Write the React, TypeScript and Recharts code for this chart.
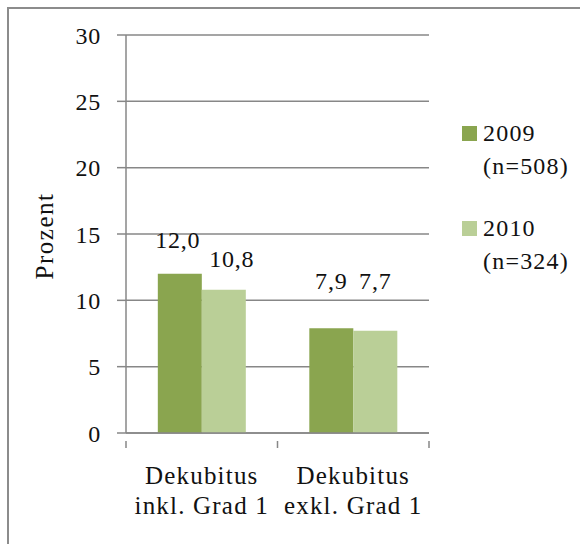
import React from "react";
import { BarChart, Bar, XAxis, YAxis, CartesianGrid, LabelList } from "recharts";

const categories = ["Dekubitus\ninkl. Grad 1", "Dekubitus\nexkl. Grad 1"];
const values2009 = [12.0, 7.9];
const values2010 = [10.8, 7.7];
const seriesNames = ["2009", "2010"];
const seriesNotes = ["(n=508)", "(n=324)"];
const yTicks = [0, 5, 10, 15, 20, 25, 30];

const data = categories.map((c, i) => ({ cat: c, a: values2009[i], b: values2010[i] }));

const FONT = "Liberation Serif, Times New Roman, serif";
const DARK = "#8AA54F";
const LIGHT = "#BACF97";
const AXIS = "#878787";

const W = 580;
const H = 544;
const M = { top: 35, right: 151, left: 0, bottom: 0 };
const YW = 126;
const XH = 111;

const fmt = (v: number) => v.toFixed(1).replace(".", ",");

const XTick = (props: any) => {
  const { x, y, payload, index } = props;
  const plotW = W - YW - M.right;
  const band = plotW / categories.length;
  const lines = String(payload.value).split("\n");
  const left = x - band / 2;
  return (
    <g>
      <line x1={left} y1={y} x2={left} y2={y + 7} stroke={AXIS} strokeWidth={1.5} />
      {index === categories.length - 1 && (
        <line x1={x + band / 2} y1={y} x2={x + band / 2} y2={y + 7} stroke={AXIS} strokeWidth={1.5} />
      )}
      <text x={x} y={y} textAnchor="middle" fontFamily={FONT} fontSize={25} letterSpacing={1.2} fill="#111">
        {lines.map((l, i) => (
          <tspan key={i} x={x} dy={i === 0 ? 43 : 30}>
            {l}
          </tspan>
        ))}
      </text>
    </g>
  );
};

const labelNudge: Record<string, { dx: number; dy: number }[]> = {
  a: [{ dx: -2, dy: -26 }, { dx: 0, dy: -39 }],
  b: [{ dx: 8, dy: -23 }, { dx: 0, dy: -42 }],
};

const makeLabel = (key: string) => (props: any) => {
  const { x, y, width, value, index } = props;
  const n = labelNudge[key][index] || { dx: 0, dy: 0 };
  return (
    <text
      x={x + width / 2 + n.dx}
      y={y + n.dy}
      textAnchor="middle"
      fontFamily={FONT}
      fontSize={24}
      letterSpacing={0.8}
      fill="#111"
    >
      {fmt(value)}
    </text>
  );
};

const Legend = () => {
  const colors = [DARK, LIGHT];
  const tops = [135, 230];
  return (
    <>
      {seriesNames.map((s, i) => (
        <div key={s} style={{ position: "absolute", left: 462, top: tops[i] - 18, fontFamily: FONT, fontSize: 24, letterSpacing: 1.2, color: "#111", lineHeight: "33px" }}>
          <div style={{ display: "flex", alignItems: "center" }}>
            <span style={{ display: "inline-block", width: 15, height: 15, background: colors[i], marginRight: 6 }} />
            <span>{s}</span>
          </div>
          <div style={{ paddingLeft: 21 }}>{seriesNotes[i]}</div>
        </div>
      ))}
    </>
  );
};

export default function App() {
  return (
    <div style={{ position: "fixed", left: 0, top: 0, width: W, height: H, overflow: "hidden", background: "#fff" }}>
      <div style={{ position: "absolute", left: 7, top: 7, width: 700, height: 700, border: "2px solid #8c8c8c" }} />
      <div style={{ position: "absolute", left: 0, top: 0 }}>
        <BarChart width={W} height={H} data={data} margin={M} barCategoryGap="21%" barGap={0}>
          <CartesianGrid vertical={false} stroke={AXIS} strokeWidth={1.5} />
          <XAxis
            dataKey="cat"
            height={XH}
            axisLine={{ stroke: AXIS, strokeWidth: 1.5 }}
            tickLine={false}
            tick={<XTick />}
            interval={0}
          />
          <YAxis
            width={YW}
            domain={[0, 30]}
            ticks={yTicks}
            interval={0}
            axisLine={{ stroke: AXIS, strokeWidth: 1.5 }}
            tickLine={{ stroke: AXIS, strokeWidth: 1.5 }}
            tickSize={9}
            tickMargin={16}
            tick={{ fontFamily: FONT, fontSize: 24, fill: "#111", letterSpacing: 0.8 }}
            label={{
              value: "Prozent",
              angle: -90,
              position: "insideLeft",
              offset: 0,
              dx: 44,
              dy: 2,
              style: { fontFamily: FONT, fontSize: 25, fill: "#111", letterSpacing: 1.5, textAnchor: "middle" },
            }}
          />
          <Bar dataKey="a" name={seriesNames[0]} fill={DARK} isAnimationActive={false}>
            <LabelList dataKey="a" content={makeLabel("a")} />
          </Bar>
          <Bar dataKey="b" name={seriesNames[1]} fill={LIGHT} isAnimationActive={false}>
            <LabelList dataKey="b" content={makeLabel("b")} />
          </Bar>
        </BarChart>
      </div>
      <Legend />
    </div>
  );
}
